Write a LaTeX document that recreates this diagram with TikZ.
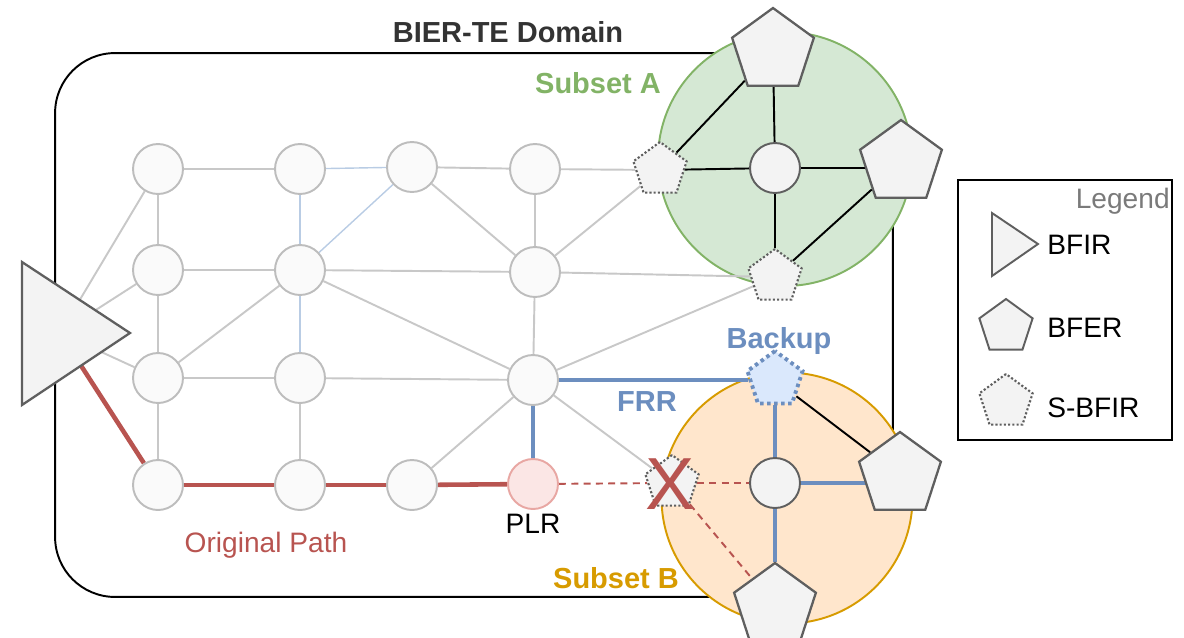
\documentclass[tikz,border=0pt]{standalone}
\usepackage{fontspec}
\setmainfont{Liberation Sans}
\usetikzlibrary{shapes.geometric, positioning}

\definecolor{gridgray}{HTML}{C8C8C8}
\definecolor{routerline}{HTML}{BDBDBD}
\definecolor{routerfill}{HTML}{FAFAFA}
\definecolor{darkline}{HTML}{5F5F5F}
\definecolor{nodefill}{HTML}{F3F3F3}
\definecolor{lightblue}{HTML}{B9CCE4}
\definecolor{frrblue}{HTML}{6C8EBF}
\definecolor{backupfill}{HTML}{DAE8FC}
\definecolor{pathred}{HTML}{B85450}
\definecolor{plrfill}{HTML}{FBE6E5}
\definecolor{plrline}{HTML}{E8A7A3}
\definecolor{greenfill}{HTML}{D5E8D4}
\definecolor{greenline}{HTML}{82B366}
\definecolor{orangefill}{HTML}{FFE6CC}
\definecolor{orangeline}{HTML}{D79B00}
\definecolor{titlegray}{HTML}{333333}
\definecolor{legendgray}{HTML}{7A7A7A}

\pgfdeclarelayer{back}
\pgfdeclarelayer{mid}
\pgfsetlayers{back,mid,main}

\begin{document}
\begin{tikzpicture}[x=0.02cm, y=-0.02cm,
	font=\fontsize{16}{19}\selectfont,
	router/.style={circle, draw=routerline, fill=routerfill, line width=1.1pt, minimum size=1cm, inner sep=0pt},
	corerouter/.style={router, draw=darkline, fill=nodefill},
	bfer/.style={regular polygon, regular polygon sides=5, draw=darkline, fill=nodefill, line width=1.3pt, minimum size=1.72cm, inner sep=0pt},
	sbfir/.style={bfer, dash pattern=on 1.2pt off 1.2pt, line width=1.2pt, minimum size=1.12cm},
	subset/.style={circle, line width=1.1pt, inner sep=0pt},
	link/.style={draw=gridgray, line width=1.1pt},
	thinlink/.style={draw=lightblue, line width=0.8pt},
	blacklink/.style={draw=black, line width=1.1pt},
	frrlink/.style={draw=frrblue, line width=2.6pt},
	pathlink/.style={draw=pathred, line width=2.6pt},
	lostlink/.style={draw=pathred, line width=1.1pt, dash pattern=on 4pt off 3pt},
	boldlabel/.style={font=\fontsize{16.5}{19}\selectfont\bfseries}]
	\useasboundingbox (0,0) rectangle (1184,637);

	% Domain, subsets and legend box:
	\begin{pgfonlayer}{back}
		\node[draw, line width=1.1pt, rounded corners=1.2cm, minimum width=16.76cm, minimum height=10.88cm] (domain) at (474,325){};
		\node[subset, draw=greenline, fill=greenfill, minimum size=5.08cm] (subA) at (785,159){};
		\node[subset, draw=orangeline, fill=orangefill, minimum size=5.02cm] (subB) at (787,498){};
	\end{pgfonlayer}
	\node[boldlabel, text=titlegray] (title) at (508,32){BIER-TE Domain};
	\node[boldlabel, text=greenline] (subAlabel) at (598,83){Subset A};
	\node[boldlabel, text=orangeline] (subBlabel) at (616,578){Subset B};

	% BFIR
	\coordinate (bfir) at (60,333);
	\draw[draw=darkline, fill=nodefill, line width=1.3pt, line join=miter] (22,262) -- (130,333) -- (22,405) -- cycle;

	% Routers of the domain:
	\node[router] (r11) at (158,169){};
	\node[router] (r12) at (300,169){};
	\node[router] (r13) at (412,167){};
	\node[router] (r14) at (535,169){};
	\node[router] (r21) at (158,270){};
	\node[router] (r22) at (300,270){};
	\node[router] (r24) at (535,272){};
	\node[router] (r31) at (158,378){};
	\node[router] (r32) at (300,378){};
	\node[router] (r34) at (533,380){};
	\node[router] (r41) at (158,485){};
	\node[router] (r42) at (300,485){};
	\node[router] (r43) at (412,485){};
	\node[router, draw=plrline, fill=plrfill] (plr) at (533,484){};
	\node (plrlabel) at (533,524){PLR};

	% Subset A
	\node[bfer] (abfer1) at (773,51){};
	\node[bfer] (abfer2) at (901,163){};
	\node[corerouter] (actr) at (775,168){};
	\node[sbfir] (as1) at (660,170){};
	\node[sbfir] (as2) at (775,277){};

	% Subset B
	\node[sbfir, draw=frrblue, fill=backupfill, line width=2.2pt, dash pattern=on 2pt off 2pt, minimum size=1.16cm] (backup) at (775,380){};
	\node[corerouter] (bctr) at (775,483){};
	\node[bfer] (bbfer1) at (900,475){};
	\node[bfer] (bbfer2) at (775,606){};
	\node[sbfir] (bx) at (672,483){};
	\node[text=pathred, font=\fontsize{42}{42}\selectfont, inner sep=0pt] (xmark) at (670,484){X};
	\node[boldlabel, text=frrblue] (backuplabel) at (779,341){Backup};
	\node[boldlabel, text=frrblue] (frrlabel) at (647,402){FRR};
	\node[text=pathred] (origlabel) at (266,545){Original Path};

	% Links:
	\begin{pgfonlayer}{mid}
		\foreach \a/\b in {bfir/r11, bfir/r21, bfir/r31, r11/r12, r13/r14, r14/as1,
			r11/r21, r21/r31, r31/r41, r13/r24, r14/r24, r24/as1, r21/r22, r22/r24,
			r24/as2, r22/r31, r22/r34, r24/r34, r31/r32, r32/r34, r34/as2, r32/r42,
			r34/r43, r34/bx}
			\draw[link] (\a) -- (\b);
		\foreach \a/\b in {r12/r13, r12/r22, r13/r22, r22/r32}
			\draw[thinlink] (\a) -- (\b);
		\foreach \a/\b in {abfer1/as1, abfer1/actr, as1/actr, actr/as2, abfer2/as2, backup/bbfer1}
			\draw[blacklink] (\a) -- (\b);
		\draw[blacklink] (actr) -- (actr -| abfer2);
		\foreach \a/\b in {r34/plr, r34/backup, backup/bctr, bctr/bbfer2}
			\draw[frrlink] (\a) -- (\b);
		\draw[frrlink] (bctr) -- (bctr -| bbfer1);
		\foreach \a/\b in {bfir/r41, r41/r42, r42/r43, r43/plr}
			\draw[pathlink] (\a) -- (\b);
		\foreach \a/\b in {plr/bx, bx/bctr, bx/bbfer2}
			\draw[lostlink] (\a) -- (\b);
	\end{pgfonlayer}

	% Legend
	\node[draw, line width=1.1pt, minimum width=4.28cm, minimum height=5.2cm] (legend) at (1065,310){};
	\node[anchor=east, inner sep=0pt, text=legendgray] (legendtitle) at (1170,201){Legend};
	\draw[draw=darkline, fill=nodefill, line width=1.1pt, line join=miter] (992,213) -- (1038,244) -- (992,276) -- cycle;
	\node[bfer, line width=1.1pt, minimum size=1.12cm] (legbfer) at (1006,327){};
	\node[sbfir, minimum size=1.12cm] (legsbfir) at (1006,402){};
	\node[anchor=west, inner sep=0pt] (legbfirtext) at (1047,245){BFIR};
	\node[anchor=west, inner sep=0pt] (legbfertext) at (1047,328){BFER};
	\node[anchor=west, inner sep=0pt] (legsbfirtext) at (1047,408){S-BFIR};
\end{tikzpicture}
\end{document}
